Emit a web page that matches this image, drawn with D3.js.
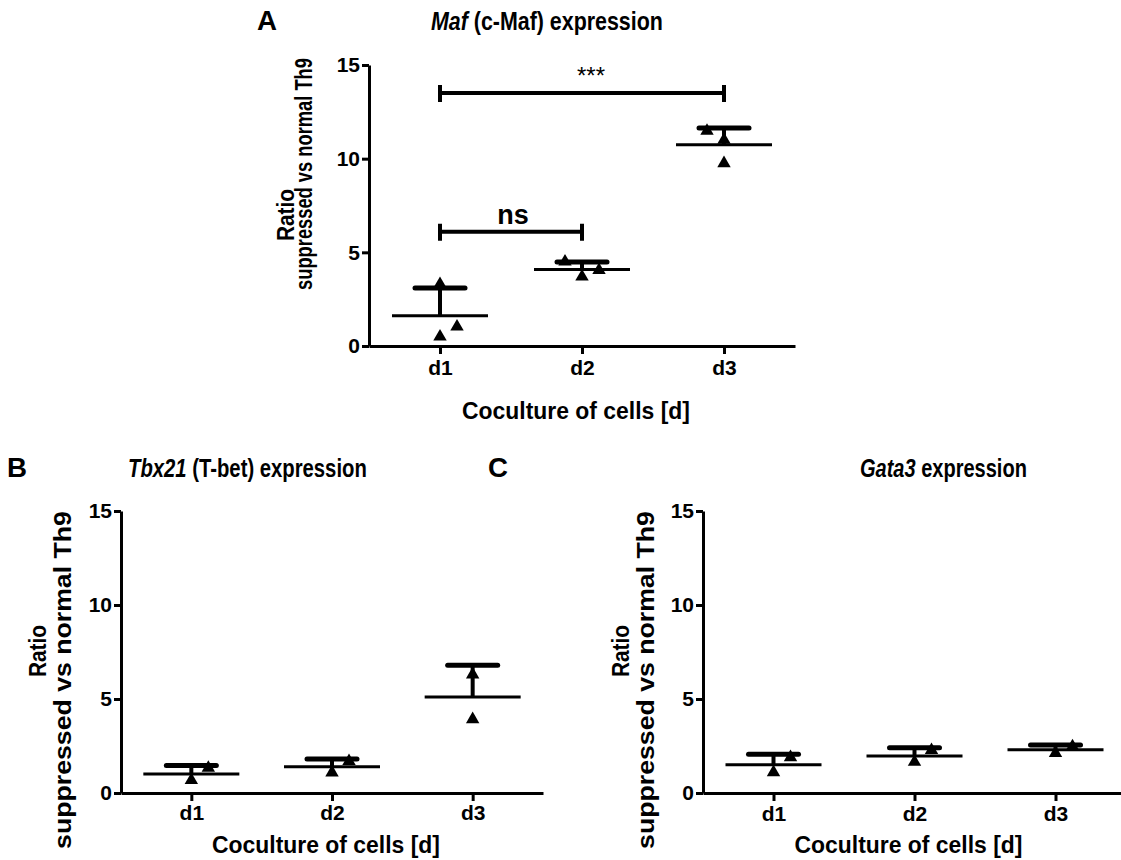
<!DOCTYPE html>
<html lang="en">
<head>
<meta charset="utf-8">
<script src="https://cdn.jsdelivr.net/npm/d3@7/dist/d3.min.js"></script>
<style>
  body { margin: 0; background: #fff; }
  svg { font-family: "Liberation Sans", Arial, sans-serif; font-weight: bold; }
  .axis path, .axis line { stroke: #000; stroke-width: 3; }
  .axis text { font-family: "Liberation Sans", Arial, sans-serif; font-size: 21px; font-weight: bold; fill: #000; }
</style>
</head>
<body>
<script>
// data (ratio suppressed vs normal Th9)
const days = ["d1", "d2", "d3"];
const yTicks = [0, 5, 10, 15];

const mafValues = [[0.5, 1.03, 3.3], [4.5, 3.7, 4.05], [11.48, 11.0, 9.75]];
const mafSlots = [[0, 1, 0], [-1, 0, 1], [-1, 0, 0]];
const mafBrackets = [
    {from: "d1", to: "d3", value: 13.5, label: "***"},
    {from: "d1", to: "d2", value: 6.1, label: "ns"}
];

const tbx21Values = [[0.68, 1.33], [1.09, 1.69], [6.3, 3.92]];
const tbx21Slots = [[0, 1], [0, 1], [0, 0]];

const gata3Values = [[1.1, 1.9], [1.65, 2.28], [2.12, 2.48]];
const gata3Slots = [[0, 1], [0, 1], [0, 1]];

let svg = d3.select("body").append("svg")
    .attr("width", 1121).attr("height", 860);

let panels = [
    {letter: "A", gene: "Maf", rest: " (c-Maf) expression", values: mafValues, slots: mafSlots, brackets: mafBrackets,
        left: 369, right: 795, top: 65, bottom: 346, letterX: 257, titleX: 431, titleW: 232, titleY: 30,
        tickPad: 6, xTitleY: 419, ratioX: 294, ratioY: 215, longX: 312, longY: 174, longW: 232},
    {letter: "B", gene: "Tbx21", rest: " (T-bet) expression", values: tbx21Values, slots: tbx21Slots, brackets: [],
        left: 121, right: 543, top: 511, bottom: 793, letterX: 7, titleX: 128, titleW: 239, titleY: 477,
        tickPad: 4, xTitleY: 853, ratioX: 46, ratioY: 651, longX: 71, longY: 680, longW: 338},
    {letter: "C", gene: "Gata3", rest: " expression", values: gata3Values, slots: gata3Slots, brackets: [],
        left: 703, right: 1126, top: 511, bottom: 793, letterX: 488, titleX: 860, titleW: 167, titleY: 477,
        tickPad: 5, xTitleY: 853, ratioX: 629, ratioY: 651, longX: 654, longY: 680, longW: 338}
];

// factor that squeezes a text element (along its baseline) to a given width
function fit(text, width) {
    let w = text.node().getComputedTextLength();
    return width / w;
}

panels.forEach(function (p) {
    let g = svg.append("g");

    let x = d3.scalePoint().domain(days).range([p.left, p.right]).padding(0.5);
    let y = d3.scaleLinear().domain([0, 15]).range([p.bottom, p.top]);

    g.append("g").attr("class", "axis")
        .attr("transform", "translate(0," + p.bottom + ")")
        .call(d3.axisBottom(x).tickSize(8).tickSizeOuter(0).tickPadding(p.tickPad));
    g.append("g").attr("class", "axis")
        .attr("transform", "translate(" + p.left + ",0)")
        .call(d3.axisLeft(y).tickValues(yTicks).tickSize(7).tickSizeOuter(0).tickPadding(2));

    // panel letter
    let letter = g.append("text").attr("font-size", 27).text(p.letter);
    letter.attr("transform", "translate(" + p.letterX + "," + p.titleY + ") scale(" + fit(letter, 20) + ",1)");

    // title, gene name in italics
    let title = g.append("text").attr("font-size", 26);
    title.append("tspan").attr("font-style", "italic").text(p.gene);
    title.append("tspan").text(p.rest);
    title.attr("transform", "translate(" + p.titleX + "," + p.titleY + ") scale(" + fit(title, p.titleW) + ",1)");

    // axis titles
    let xt = g.append("text").attr("font-size", 23).attr("text-anchor", "middle")
        .text("Coculture of cells [d]");
    xt.attr("transform", "translate(" + ((p.left + p.right) / 2 - 6) + "," + p.xTitleY + ") scale(" + fit(xt, 228) + ",1)");

    let ratio = g.append("text").attr("font-size", 24).attr("text-anchor", "middle").text("Ratio");
    ratio.attr("transform", "translate(" + p.ratioX + "," + p.ratioY + ") rotate(-90) scale(" + fit(ratio, 52) + ",1)");
    let longLab = g.append("text").attr("font-size", 24).attr("text-anchor", "middle").text("suppressed vs normal Th9");
    longLab.attr("transform", "translate(" + p.longX + "," + p.longY + ") rotate(-90) scale(" + fit(longLab, p.longW) + ",1)");

    // mean and SD for each day
    let stats = days.map(function (d, i) {
        return {day: d, mean: d3.mean(p.values[i]), sd: d3.deviation(p.values[i])};
    });

    let err = g.append("g").attr("stroke", "#000");
    err.selectAll(".vert").data(stats).enter().append("line")
        .attr("x1", d => x(d.day)).attr("x2", d => x(d.day))
        .attr("y1", d => y(d.mean)).attr("y2", d => y(d.mean + d.sd))
        .attr("stroke-width", 4);
    err.selectAll(".cap").data(stats).enter().append("line")
        .attr("x1", d => x(d.day) - 25).attr("x2", d => x(d.day) + 25)
        .attr("y1", d => y(d.mean + d.sd)).attr("y2", d => y(d.mean + d.sd))
        .attr("stroke-width", 5).attr("stroke-linecap", "round");
    err.selectAll(".mean").data(stats).enter().append("line")
        .attr("x1", d => x(d.day) - 48).attr("x2", d => x(d.day) + 48)
        .attr("y1", d => y(d.mean)).attr("y2", d => y(d.mean))
        .attr("stroke-width", 3);

    // individual replicates as triangles
    let pts = [];
    p.values.forEach(function (vals, i) {
        vals.forEach(function (v, j) {
            pts.push({day: days[i], value: v, slot: p.slots[i][j]});
        });
    });
    g.append("g").selectAll("path").data(pts).enter().append("path")
        .attr("d", d3.symbol(d3.symbolTriangle, 78))
        .attr("transform", d => "translate(" + (x(d.day) + d.slot * 17) + "," + y(d.value) + ")")
        .attr("fill", "#000");

    // significance brackets
    let br = g.append("g").selectAll("g").data(p.brackets).enter().append("g");
    br.append("path")
        .attr("d", function (d) {
            let y0 = y(d.value);
            return "M" + x(d.from) + "," + (y0 - 8) + " V" + (y0 + 9) +
                " M" + x(d.from) + "," + y0 + " H" + x(d.to) +
                " M" + x(d.to) + "," + (y0 - 8) + " V" + (y0 + 9);
        })
        .attr("fill", "none").attr("stroke", "#000").attr("stroke-width", 4);
    br.append("text")
        .attr("x", d => (x(d.from) + x(d.to)) / 2 + (d.label === "***" ? 9 : 2))
        .attr("y", d => y(d.value) - (d.label === "***" ? 9 : 8))
        .attr("text-anchor", "middle")
        .attr("font-size", d => d.label === "***" ? 24 : 27)
        .attr("font-weight", d => d.label === "***" ? "normal" : "bold")
        .text(d => d.label);
});
</script>
</body>
</html>
